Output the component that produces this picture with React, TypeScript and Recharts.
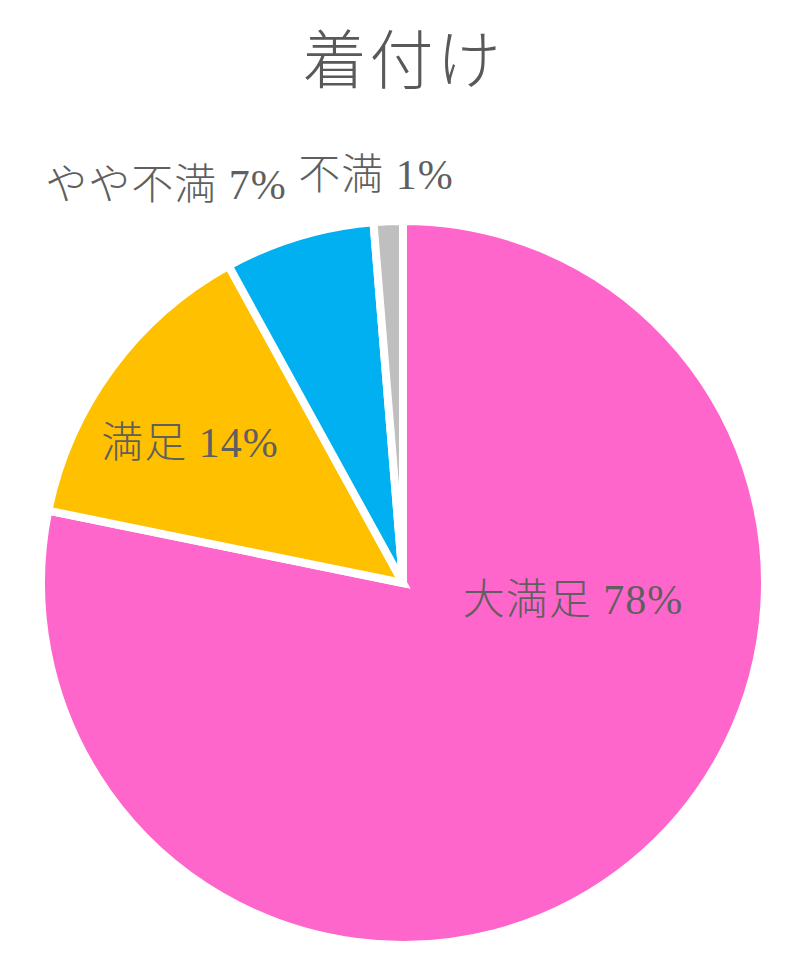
import { PieChart, Pie, Cell } from "recharts";

const categories = ["大満足", "満足", "やや不満", "不満"];
const shares = [78.2, 13.8, 6.7, 1.3];
const shownPercents = ["78%", "14%", "7%", "1%"];
const sliceColors = ["#FF66CC", "#FFC000", "#00B0F0", "#BFBFBF"];
// label anchor offsets from pie centre (px)
const labelOffsets = [
  [170, 17],
  [-213, -140],
  [-237, -398],
  [-27, -408],
];

const data = categories.map((name, i) => ({
  name,
  value: shares[i],
  pct: shownPercents[i],
}));

const FONT = "'Liberation Serif', 'Noto Sans CJK JP', serif";

function renderLabel(props: any) {
  const { cx, cy, index } = props;
  const [dx, dy] = labelOffsets[index];
  return (
    <text
      x={cx + dx}
      y={cy + dy}
      textAnchor="middle"
      dominantBaseline="central"
      fill="#5f5f5f"
      fontSize={42}
      fontWeight={300}
      letterSpacing={1}
      fontFamily={FONT}
      style={{ whiteSpace: "pre" }}
    >
      {categories[index]} {shownPercents[index]}
    </text>
  );
}

export default function App() {
  return (
    <div
      style={{
        position: "absolute",
        left: 0,
        top: 0,
        width: 800,
        height: 962,
        background: "#fff",
      }}
    >
      <div
        style={{
          position: "absolute",
          left: 0,
          top: 12,
          width: 806,
          textAlign: "center",
          fontFamily: "'Noto Sans CJK JP', sans-serif",
          fontWeight: 300,
          fontSize: 64,
          letterSpacing: 3,
          color: "#595959",
          lineHeight: "86px",
        }}
      >
        着付け
      </div>
      <PieChart
        width={800}
        height={962}
        margin={{ top: 0, right: 0, bottom: 0, left: 0 }}
      >
        <Pie
          data={data}
          dataKey="value"
          nameKey="name"
          cx={403}
          cy={583}
          outerRadius={362}
          startAngle={90}
          endAngle={-270}
          stroke="#fff"
          strokeWidth={8}
          label={renderLabel}
          labelLine={false}
          isAnimationActive={false}
        >
          {data.map((d, i) => (
            <Cell key={d.name} fill={sliceColors[i]} strokeLinejoin="miter" />
          ))}
        </Pie>
      </PieChart>
    </div>
  );
}
